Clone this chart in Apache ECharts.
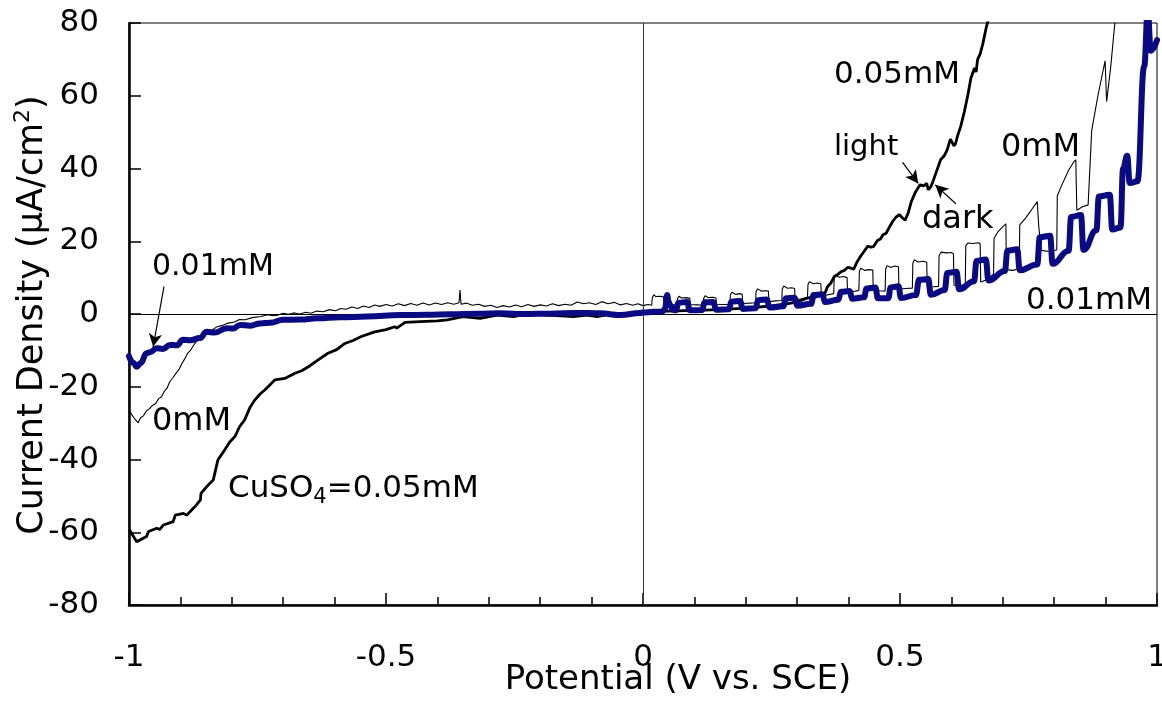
<!DOCTYPE html>
<html>
<head>
<meta charset="utf-8">
<script src="https://cdn.jsdelivr.net/npm/echarts@6/dist/echarts.min.js"></script>
<style>
html,body{margin:0;padding:0;background:#fff;}
#chart{width:1162px;height:706px;}
</style>
</head>
<body>
<div id="chart"></div>
<script>
// ---- Data (x: V vs SCE, y: µA/cm²) ----
const xTicks = [-1, -0.5, 0, 0.5, 1];
const yTicks = [-80, -60, -40, -20, 0, 20, 40, 60, 80];

// CuSO4 = 0 mM (thin black)
const curve0mM = [
  [-1.000,-26.5],[-0.995,-27.6],[-0.988,-29.0],[-0.982,-29.9],[-0.978,-28.6],[-0.972,-28.0],
  [-0.966,-26.6],[-0.960,-26.0],[-0.955,-25.2],[-0.948,-24.6],[-0.942,-23.2],[-0.937,-22.8],
  [-0.931,-21.2],[-0.926,-20.4],[-0.921,-18.7],[-0.915,-17.6],[-0.909,-16.4],[-0.903,-15.3],
  [-0.897,-13.6],[-0.891,-12.2],[-0.886,-10.8],[-0.880,-9.9],[-0.873,-8.3],[-0.866,-7.1],
  [-0.860,-6.4],[-0.853,-5.6],[-0.846,-4.9],[-0.838,-4.4],[-0.830,-3.6],[-0.820,-3.2],
  [-0.807,-2.5],[-0.795,-2.2],[-0.785,-1.5],[-0.774,-1.6],[-0.760,-1.0],[-0.743,-0.7],
  [-0.730,-0.2],[-0.720,-0.5],[-0.710,-0.3],[-0.700,0.2],[-0.690,-0.1],[-0.680,0.3],
  [-0.668,0.0],[-0.656,0.5],[-0.646,0.2],[-0.635,0.8],[-0.622,0.6],[-0.610,1.2],
  [-0.598,0.9],[-0.588,1.5],[-0.578,1.3],[-0.566,1.9],[-0.555,1.5],[-0.544,2.2],
  [-0.533,1.8],[-0.522,2.5],[-0.512,2.1],[-0.500,2.6],[-0.488,2.2],[-0.476,2.8],
  [-0.464,2.3],[-0.452,2.9],[-0.440,2.4],[-0.428,3.0],[-0.416,2.5],[-0.404,3.0],
  [-0.392,2.6],[-0.380,3.1],[-0.368,2.7],[-0.358,3.1],[-0.356,6.6],[-0.354,2.7],
  [-0.344,3.0],[-0.332,2.4],[-0.320,2.7],[-0.308,2.1],[-0.296,2.4],[-0.284,1.8],
  [-0.272,2.3],[-0.260,1.9],[-0.248,2.5],[-0.236,2.0],[-0.224,2.6],[-0.212,2.1],
  [-0.200,2.5],[-0.188,2.2],[-0.176,2.8],[-0.164,2.3],[-0.152,2.7],[-0.140,2.4],
  [-0.128,3.3],[-0.116,2.8],[-0.104,3.1],[-0.092,2.6],[-0.080,3.4],[-0.068,2.8],
  [-0.056,3.2],[-0.044,2.5],[-0.032,2.9],[-0.020,2.4],[-0.010,2.8],[0.000,2.3],
  [0.010,2.6],[0.017,2.4],[0.018,4.4],[0.021,5.3],[0.025,4.8],[0.033,4.9],[0.040,4.7],
  [0.041,2.8],[0.055,2.6],[0.066,2.5],[0.067,4.2],[0.070,4.9],[0.075,4.4],[0.085,4.5],
  [0.091,4.3],[0.092,2.6],[0.105,2.5],[0.117,2.4],[0.118,4.3],[0.121,5.0],[0.127,4.5],
  [0.136,4.6],[0.142,4.4],[0.143,2.7],[0.155,2.6],[0.169,2.6],[0.170,5.3],[0.173,6.0],
  [0.180,5.4],[0.188,5.6],[0.193,5.4],[0.194,2.9],[0.207,3.0],[0.219,3.1],[0.220,6.2],
  [0.223,6.9],[0.230,6.3],[0.238,6.4],[0.244,6.3],[0.245,3.4],[0.258,3.6],[0.270,3.7],
  [0.271,6.9],[0.274,7.7],[0.281,7.1],[0.289,7.2],[0.295,7.0],[0.296,3.9],[0.308,4.2],
  [0.320,4.6],[0.321,8.2],[0.324,8.9],[0.331,8.3],[0.339,8.5],[0.346,8.3],[0.347,4.8],
  [0.360,5.3],[0.371,5.6],[0.372,9.8],[0.375,10.6],[0.382,10.1],[0.390,10.3],[0.397,10.0],
  [0.398,5.7],[0.410,6.2],[0.420,6.5],[0.421,11.8],[0.424,12.6],[0.431,12.0],[0.440,12.2],
  [0.447,12.1],[0.448,6.6],[0.460,6.4],[0.471,6.3],[0.472,12.3],[0.475,13.3],[0.482,12.8],
  [0.490,13.2],[0.497,13.0],[0.498,6.8],[0.510,7.0],[0.524,7.1],[0.525,14.0],[0.528,14.9],
  [0.535,14.3],[0.545,14.5],[0.552,14.2],[0.553,7.4],[0.565,7.5],[0.575,7.6],[0.576,16.0],
  [0.580,17.0],[0.590,16.8],[0.600,16.9],[0.604,16.6],[0.605,7.9],[0.615,7.8],[0.627,8.0],
  [0.628,18.8],[0.632,19.5],[0.642,19.4],[0.652,19.6],[0.656,19.3],[0.657,8.8],[0.670,9.5],
  [0.682,11.0],[0.683,20.8],[0.690,22.5],[0.700,24.0],[0.706,24.8],[0.707,12.2],[0.720,12.0],
  [0.732,12.5],[0.733,24.5],[0.745,26.5],[0.760,29.5],[0.767,30.9],[0.770,24.0],[0.775,17.5],
  [0.790,17.2],[0.805,17.6],[0.806,32.5],[0.815,35.5],[0.828,39.5],[0.838,41.8],[0.842,42.4],
  [0.844,28.5],[0.855,29.5],[0.866,30.0],[0.873,50.5],[0.885,60.0],[0.899,69.6],[0.902,58.4],
  [0.910,68.0],[0.918,80.0],[0.925,90.0]
];

// CuSO4 = 0.01 mM (thick navy)
const curve001mM = [
  [-1.000,-11.6],[-0.992,-13.4],[-0.985,-14.5],[-0.977,-13.5],[-0.966,-10.8],[-0.959,-10.5],
  [-0.946,-9.4],[-0.934,-9.6],[-0.920,-8.5],[-0.907,-8.6],[-0.895,-7.1],[-0.881,-7.2],
  [-0.862,-6.6],[-0.849,-4.9],[-0.833,-5.1],[-0.810,-3.9],[-0.797,-4.0],[-0.784,-3.0],
  [-0.764,-3.2],[-0.745,-2.6],[-0.725,-2.4],[-0.700,-1.6],[-0.667,-1.5],[-0.634,-1.2],
  [-0.589,-0.9],[-0.537,-0.7],[-0.472,-0.3],[-0.420,-0.2],[-0.375,-0.1],[-0.320,0.1],
  [-0.277,0.2],[-0.230,0.0],[-0.180,0.1],[-0.130,0.3],[-0.083,0.2],[-0.044,-0.3],
  [-0.005,0.3],[0.000,0.4],[0.020,0.6],[0.038,0.7],[0.043,1.5],[0.047,5.2],[0.050,3.2],
  [0.054,2.2],[0.058,1.2],[0.064,1.0],[0.069,3.1],[0.086,3.3],[0.091,1.0],[0.115,1.1],
  [0.120,3.2],[0.137,3.3],[0.142,1.2],[0.167,1.3],[0.172,3.4],[0.189,3.6],[0.194,1.4],
  [0.219,1.6],[0.224,3.8],[0.241,4.0],[0.246,1.8],[0.273,2.1],[0.278,4.3],[0.295,4.5],
  [0.300,2.3],[0.327,2.8],[0.332,5.2],[0.349,5.4],[0.354,3.3],[0.380,3.9],[0.385,6.1],
  [0.402,6.3],[0.407,4.2],[0.430,4.6],[0.435,7.0],[0.452,7.3],[0.457,4.3],[0.477,4.3],
  [0.482,7.3],[0.497,7.6],[0.502,4.4],[0.531,5.2],[0.537,9.4],[0.555,9.6],[0.560,5.3],
  [0.587,6.6],[0.592,11.3],[0.610,11.6],[0.615,6.8],[0.644,9.0],[0.649,14.6],[0.667,15.0],
  [0.672,9.2],[0.704,11.8],[0.709,17.4],[0.728,17.8],[0.733,12.0],[0.767,13.6],[0.772,21.1],
  [0.792,21.5],[0.797,13.8],[0.828,17.4],[0.833,26.7],[0.852,27.2],[0.857,17.6],[0.882,23.0],
  [0.887,32.3],[0.908,32.8],[0.913,23.2],[0.929,23.8],[0.934,40.0],[0.942,43.5],[0.947,36.0],
  [0.962,36.5],[0.975,68.0],[0.982,83.0],[0.988,72.4],[1.000,75.3]
];

// CuSO4 = 0.05 mM (medium black)
const curve005mM = [
  [-1.000,-59.2],[-0.985,-62.6],[-0.966,-61.2],[-0.962,-59.8],[-0.946,-58.9],[-0.940,-59.2],
  [-0.933,-58.0],[-0.914,-57.1],[-0.910,-55.3],[-0.894,-54.8],[-0.891,-54.3],[-0.888,-55.3],
  [-0.872,-53.0],[-0.861,-51.1],[-0.860,-49.3],[-0.849,-47.5],[-0.836,-45.6],[-0.827,-40.1],
  [-0.814,-37.4],[-0.804,-35.2],[-0.794,-33.7],[-0.785,-31.0],[-0.775,-29.1],[-0.765,-25.8],
  [-0.755,-23.6],[-0.745,-22.0],[-0.736,-20.9],[-0.726,-19.5],[-0.716,-18.1],[-0.697,-17.7],
  [-0.677,-16.3],[-0.664,-15.6],[-0.651,-14.5],[-0.632,-12.6],[-0.613,-10.8],[-0.596,-9.8],
  [-0.580,-8.1],[-0.564,-7.3],[-0.548,-6.2],[-0.522,-4.9],[-0.500,-4.3],[-0.483,-3.5],
  [-0.479,-3.9],[-0.463,-2.3],[-0.433,-2.1],[-0.400,-1.9],[-0.381,-1.6],[-0.350,-0.7],
  [-0.317,-1.2],[-0.284,-0.3],[-0.252,-0.7],[-0.219,0.2],[-0.187,-0.3],[-0.160,-0.5],
  [-0.135,-0.7],[-0.109,-0.3],[-0.089,-0.7],[-0.057,0.2],[-0.030,0.0],[0.000,0.6],
  [0.050,0.8],[0.100,1.0],[0.150,1.2],[0.200,1.6],[0.250,2.2],[0.280,2.8],[0.300,3.3],
  [0.320,4.4],[0.335,4.6],[0.346,5.2],[0.352,5.0],[0.359,7.5],[0.366,8.6],[0.372,10.3],
  [0.378,10.8],[0.385,11.6],[0.392,12.0],[0.398,12.8],[0.405,12.6],[0.410,12.3],[0.416,14.2],
  [0.424,16.0],[0.430,17.2],[0.437,18.6],[0.444,18.4],[0.449,18.6],[0.456,20.2],[0.462,20.6],
  [0.467,21.8],[0.473,22.2],[0.479,23.8],[0.486,25.5],[0.492,26.6],[0.499,27.3],[0.505,26.4],
  [0.510,25.8],[0.516,27.8],[0.522,30.9],[0.530,33.5],[0.539,35.5],[0.546,35.2],[0.552,35.9],
  [0.555,34.1],[0.560,35.0],[0.565,36.8],[0.572,39.6],[0.579,42.4],[0.586,43.5],[0.592,45.2],
  [0.598,48.1],[0.601,48.5],[0.605,46.2],[0.608,46.8],[0.612,49.0],[0.618,51.5],[0.625,55.5],
  [0.632,60.2],[0.638,64.9],[0.645,67.6],[0.648,66.5],[0.651,70.0],[0.656,71.5],[0.661,74.2],
  [0.668,78.9],[0.672,81.0],[0.676,84.0]
];

// Annotation arrows (tail -> head, data coordinates)
const arrows = [
  [[-0.932, 7.5], [-0.953, -9.0]],
  [[0.505, 41.7], [0.5355, 35.9]],
  [[0.6086, 30.3], [0.5686, 35.5]]
];

const FONT = '"DejaVu Sans", sans-serif';
const chart = echarts.init(document.getElementById('chart'), null, {renderer: 'canvas'});

function txt(text, x, y, size, align) {
  return {type: 'text', x: x, y: y, z: 100, silent: true,
    style: {text: text, fontSize: size, fontFamily: FONT, fill: '#000',
      textAlign: align || 'left', textVerticalAlign: 'middle'}};
}

const option = {
  animation: false,
  backgroundColor: '#fff',
  grid: {left: 129, right: 5, top: 23, bottom: 101, containLabel: false, outerBoundsMode: 'none',
    show: true, borderColor: '#000', borderWidth: 1, backgroundColor: 'transparent'},
  xAxis: {
    type: 'value', min: -1, max: 1, interval: 0.5,
    axisLine: {onZero: false, lineStyle: {color: '#000', width: 2.5}},
    axisTick: {inside: true, length: 12, lineStyle: {color: '#000', width: 1.5}},
    minorTick: {show: true, splitNumber: 5, length: 8, lineStyle: {color: '#000', width: 1.5}},
    splitLine: {show: false},
    axisLabel: {margin: 37, color: '#000', fontSize: 31, fontFamily: FONT, showMaxLabel: true, showMinLabel: true,
      formatter: function (v) { return String(Math.round(v * 10) / 10); }}
  },
  yAxis: {
    type: 'value', min: -80, max: 80, interval: 20,
    axisLine: {onZero: false, lineStyle: {color: '#000', width: 2.5}},
    axisTick: {inside: true, length: 12, lineStyle: {color: '#000', width: 1.5}},
    splitLine: {show: false},
    axisLabel: {margin: 30, color: '#000', fontSize: 31, fontFamily: FONT}
  },
  series: [
    {
      name: '0.05mM', type: 'line', data: curve005mM, showSymbol: false, symbol: 'none',
      lineStyle: {color: '#000', width: 2.8}, z: 3,
      markLine: {silent: true, symbol: ['none', 'none'], label: {show: false},
        lineStyle: {color: '#000', width: 1, type: 'solid'},
        data: [{yAxis: 0}, {xAxis: 0, lineStyle: {color: '#333', width: 1}}]}
    },
    {
      name: '0mM', type: 'line', data: curve0mM, showSymbol: false, symbol: 'none',
      lineStyle: {color: '#000', width: 1.1}, z: 4,
      markLine: {silent: true, symbol: ['none', 'arrow'], symbolSize: [10, 13], label: {show: false},
        lineStyle: {color: '#000', width: 1.2, type: 'solid'},
        data: arrows.map(a => [{coord: a[0]}, {coord: a[1]}])}
    },
    {
      name: '0.01mM', type: 'line', data: curve001mM, showSymbol: false, symbol: 'none',
      smooth: 0.45, smoothMonotone: 'x',
      lineStyle: {color: '#0a0a82', width: 6, join: 'round', cap: 'round'}, z: 5
    }
  ],
  graphic: [
    txt('0.05mM', 834, 75, 31),
    txt('light', 834, 147, 29),
    txt('0mM', 1001, 148, 32),
    txt('dark', 922, 220, 32),
    txt('0.01mM', 1152, 301, 31, 'right'),
    txt('0.01mM', 152, 267, 30),
    txt('0mM', 152, 422, 32),
    {type: 'text', x: 228, y: 489, z: 100, silent: true,
      style: {text: 'CuSO{sub|4}=0.05mM', fontSize: 31, fontFamily: FONT, fill: '#000',
        textAlign: 'left', textVerticalAlign: 'middle', lineHeight: 38,
        rich: {sub: {fontSize: 21, fontFamily: FONT, verticalAlign: 'bottom', lineHeight: 22}}}},
    {type: 'text', x: 678, y: 680, z: 100, silent: true,
      style: {text: 'Potential (V vs. SCE)', fontSize: 34, fontFamily: FONT, fill: '#000',
        textAlign: 'center', textVerticalAlign: 'middle'}},
    {type: 'text', x: 33, y: 315, rotation: Math.PI / 2, z: 100, silent: true,
      style: {text: 'Current Density (μA/cm{sup|2})', fontSize: 35, fontFamily: FONT, fill: '#000',
        textAlign: 'center', textVerticalAlign: 'middle', lineHeight: 42,
        rich: {sup: {fontSize: 22, fontFamily: FONT, verticalAlign: 'top', lineHeight: 22}}}}
  ]
};
chart.setOption(option);
</script>
</body>
</html>
